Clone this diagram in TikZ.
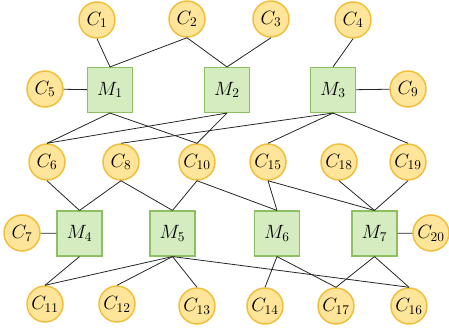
\documentclass[tikz,border=0pt]{standalone}
\usetikzlibrary{positioning}
\usepackage{mathtools}
\definecolor{cfill}{HTML}{FFE599}
\definecolor{cdraw}{HTML}{F2BE3A}
\definecolor{mfill}{HTML}{D5EBC0}
\definecolor{mdraw}{HTML}{8CC063}
\begin{document}
\begin{tikzpicture}
    [
        x=0.75pt, y=-0.75pt,
        c_node/.style={circle, draw=cdraw, fill=cfill, line width=1.1pt, minimum size=27pt, inner sep=0pt},
        m_node/.style={rectangle, draw=mdraw, fill=mfill, line width=1.1pt, minimum size=33.5pt, inner sep=0pt},
        link/.style={-, line width=0.6pt, color=black!85},
    ]
        \useasboundingbox (0,0) rectangle (449,331) ;
        % first row of C
        \node[c_node] (c1) at (97,20) {\Large$C_{1}$} ;
        \node[c_node] (c2) at (187,19) {\Large$C_{2}$} ;
        \node[c_node] (c3) at (271,19) {\Large$C_{3}$} ;
        \node[c_node] (c4) at (353,20) {\Large$C_{4}$} ;
        % upper machines
        \node[m_node] (m1) at (110,90) {\Large$M_{1}$} ;
        \node[m_node] (m2) at (227,90) {\Large$M_{2}$} ;
        \node[m_node] (m3) at (333,90) {\Large$M_{3}$} ;
        \node[c_node] (c5) at (45,89) {\Large$C_{5}$} ;
        \node[c_node] (c9) at (408,89) {\Large$C_{9}$} ;
        % middle row of C
        \node[c_node] (c6) at (47,162) {\Large$C_{6}$} ;
        \node[c_node] (c8) at (121,162) {\Large$C_{8}$} ;
        \node[c_node] (c10) at (197,162) {\Large$C_{10}$} ;
        \node[c_node] (c15) at (268,162) {\Large$C_{15}$} ;
        \node[c_node] (c18) at (339,162) {\Large$C_{18}$} ;
        \node[c_node] (c19) at (408,162) {\Large$C_{19}$} ;
        % lower machines
        \node[m_node] (m4) at (79.5,233.5) {\Large$M_{4}$} ;
        \node[m_node] (m5) at (172.5,233.5) {\Large$M_{5}$} ;
        \node[m_node] (m6) at (277,233.5) {\Large$M_{6}$} ;
        \node[m_node] (m7) at (374.5,233.5) {\Large$M_{7}$} ;
        \node[c_node] (c7) at (22,233) {\Large$C_{7}$} ;
        \node[c_node] (c20) at (431,233) {\Large$C_{20}$} ;
        % last row of C
        \node[c_node] (c11) at (45,304) {\Large$C_{11}$} ;
        \node[c_node] (c12) at (117,304) {\Large$C_{12}$} ;
        \node[c_node] (c13) at (197,306) {\Large$C_{13}$} ;
        \node[c_node] (c14) at (265,306) {\Large$C_{14}$} ;
        \node[c_node] (c17) at (336,306) {\Large$C_{17}$} ;
        \node[c_node] (c16) at (409,306) {\Large$C_{16}$} ;
        % links
        \draw[link] (c1.south) -- (m1.north) ;
        \draw[link] (c2.south) -- (m1.north) ;
        \draw[link] (c2.south) -- (m2.north) ;
        \draw[link] (c3.south) -- (m2.north) ;
        \draw[link] (c4.south) -- (m3.north) ;
        \draw[link] (c5) -- (m1) ;
        \draw[link] (m3) -- (c9) ;
        \draw[link] (m1.south) -- (c6.north) ;
        \draw[link] (m1.south) -- (c10.north) ;
        \draw[link] (m2.south) -- (c6.north) ;
        \draw[link] (m2.south) -- (c10.north) ;
        \draw[link] (m3.south) -- (c8.north) ;
        \draw[link] (m3.south) -- (c15.north) ;
        \draw[link] (m3.south) -- (c19.north) ;
        \draw[link] (c6.south) -- (m4.north) ;
        \draw[link] (c8.south) -- (m4.north) ;
        \draw[link] (c8.south) -- (m5.north) ;
        \draw[link] (c10.south) -- (m5.north) ;
        \draw[link] (c10.south) -- (m6.north) ;
        \draw[link] (c15.south) -- (m6.north) ;
        \draw[link] (c15.south) -- (m7.north) ;
        \draw[link] (c18.south) -- (m7.north) ;
        \draw[link] (c19.south) -- (m7.north) ;
        \draw[link] (c7) -- (m4) ;
        \draw[link] (m7) -- (c20) ;
        \draw[link] (m4.south) -- (c11.north) ;
        \draw[link] (m5.south) -- (c11.north) ;
        \draw[link] (m5.south) -- (c12.north) ;
        \draw[link] (m5.south) -- (c13.north) ;
        \draw[link] (m5.south) -- (c16.north) ;
        \draw[link] (m6.south) -- (c14.north) ;
        \draw[link] (m6.south) -- (c17.north) ;
        \draw[link] (m7.south) -- (c17.north) ;
        \draw[link] (m7.south) -- (c16.north) ;
    \end{tikzpicture}
\end{document}
